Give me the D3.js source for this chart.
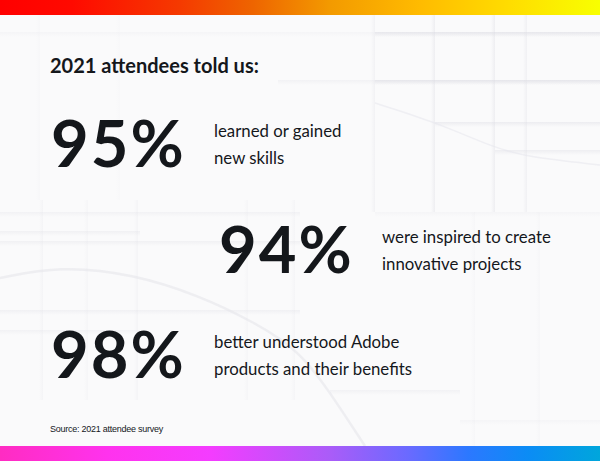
<!DOCTYPE html>
<html>
<head>
<meta charset="utf-8">
<script src="https://cdn.jsdelivr.net/npm/d3@7"></script>
<style>
  html, body { margin: 0; padding: 0; background: #f9f9fb; }
  svg { display: block; }
</style>
</head>
<body>
<svg id="chart" width="600" height="461"></svg>
<script>
// ---------- data ----------
const titleText = "2021 attendees told us:";
const statValues = [95, 94, 98];
const statColumns = [0, 1, 0];
const labelLine1 = ["learned or gained", "were inspired to create", "better understood Adobe"];
const labelLine2 = ["new skills", "innovative projects", "products and their benefits"];
const sourceText = "Source: 2021 attendee survey";

// ---------- setup ----------
const W = 600, H = 461;
const svg = d3.select("#chart");
const defs = svg.append("defs");

// background
svg.append("rect").attr("width", W).attr("height", H).attr("fill", "#fafafb");

// soft tile decoration
const deco = svg.append("g").attr("class", "deco");
const hLines = [
  [0, 600, 32, 0.2], [375, 600, 32, 0.6], [278, 600, 80, 0.3], [375, 600, 80, 0.6],
  [435, 600, 122, 0.5], [495, 600, 150, 0.45], [375, 600, 212, 0.2],
  [0, 300, 212, 0.3], [0, 140, 231, 0.35], [0, 300, 241, 0.35], [0, 300, 310, 0.35],
  [0, 140, 330, 0.3], [330, 460, 390, 0.3], [460, 600, 420, 0.2]
];
const vLines = [
  [375, 15, 212, 0.35], [435, 15, 212, 0.5], [495, 15, 212, 0.5], [527, 15, 212, 0.4],
  [43, 200, 400, 0.25], [88, 200, 400, 0.2], [138, 200, 400, 0.25], [248, 200, 400, 0.2],
  [295, 200, 400, 0.2], [40, 15, 200, 0.12], [120, 15, 200, 0.1], [475, 212, 446, 0.15], [540, 212, 446, 0.15]
];
const shadowGrad = defs.append("linearGradient").attr("id", "hshadow").attr("x1", 0).attr("y1", 0).attr("x2", 0).attr("y2", 1);
shadowGrad.append("stop").attr("offset", 0).attr("stop-color", "#dcdce3").attr("stop-opacity", 0.9);
shadowGrad.append("stop").attr("offset", 1).attr("stop-color", "#dcdce3").attr("stop-opacity", 0);
deco.selectAll("rect.hl").data(hLines).join("rect").attr("class", "hl")
  .attr("x", d => d[0]).attr("y", d => d[2]).attr("width", d => d[1] - d[0]).attr("height", 5)
  .attr("fill", "url(#hshadow)").attr("opacity", d => d[3]);
const vGrad = defs.append("linearGradient").attr("id", "vshadow").attr("x1", 0).attr("y1", 0).attr("x2", 1).attr("y2", 0);
vGrad.append("stop").attr("offset", 0).attr("stop-color", "#dcdce3").attr("stop-opacity", 0);
vGrad.append("stop").attr("offset", 1).attr("stop-color", "#dcdce3").attr("stop-opacity", 0.8);
deco.selectAll("rect.vl").data(vLines).join("rect").attr("class", "vl")
  .attr("x", d => d[0] - 4).attr("y", d => d[1]).attr("width", 4).attr("height", d => d[2] - d[1])
  .attr("fill", "url(#vshadow)").attr("opacity", d => d[3]);
// arcs
const curve = d3.line().curve(d3.curveBasis);
deco.append("path")
  .attr("d", curve([[0, 278], [60, 266], [133, 274], [200, 296], [250, 320], [300, 350], [335, 400], [365, 446]]))
  .attr("fill", "none").attr("stroke", "#e3e3e9").attr("stroke-width", 2.5).attr("opacity", 0.55);
deco.append("path")
  .attr("d", curve([[375, 103], [435, 122], [495, 148], [527, 157], [600, 165]]))
  .attr("fill", "none").attr("stroke", "#e6e6ec").attr("stroke-width", 1.5).attr("opacity", 0.55);

// gradient bars
const topGrad = defs.append("linearGradient").attr("id", "topGrad");
[[0, "#ff0000"], [0.12, "#ff0a00"], [0.3, "#f53a00"], [0.42, "#ee6400"], [0.55, "#f39a00"],
 [0.7, "#ffbb00"], [0.85, "#ffdd00"], [1, "#f8ff00"]]
  .forEach(s => topGrad.append("stop").attr("offset", s[0]).attr("stop-color", s[1]));
const botGrad = defs.append("linearGradient").attr("id", "botGrad");
[[0, "#ff2cc2"], [0.18, "#ff32ee"], [0.35, "#f43cff"], [0.55, "#aa5cf8"], [0.68, "#6a6aff"],
 [0.78, "#2c78ff"], [0.88, "#0b8cf5"], [1, "#00a6dc"]]
  .forEach(s => botGrad.append("stop").attr("offset", s[0]).attr("stop-color", s[1]));
svg.append("rect").attr("x", 0).attr("y", 0).attr("width", W).attr("height", 15).attr("fill", "url(#topGrad)");
svg.append("rect").attr("x", 0).attr("y", 446).attr("width", W).attr("height", 15).attr("fill", "url(#botGrad)");

// ---------- scales ----------
const y = d3.scalePoint().domain(d3.range(statValues.length)).range([167, 378]);
const x = d3.scaleOrdinal().domain([0, 1]).range([51, 219]);
const labelOffset = 163;
const fmt = d3.format(".0%");

const ink = "#14171b";

svg.append("text").attr("x", 50).attr("y", 73)
  .attr("font-family", "Lato, sans-serif").attr("font-weight", 700).attr("font-size", 20)
  .attr("fill", ink).text(titleText);

const rows = svg.selectAll("g.stat").data(statValues).join("g").attr("class", "stat")
  .attr("transform", (d, i) => `translate(${x(statColumns[i])},${y(i)})`);

rows.append("text").attr("x", 0).attr("y", 0)
  .attr("font-family", "Lato, sans-serif").attr("font-weight", 700).attr("font-size", 65)
  .attr("letter-spacing", 2)
  .attr("fill", ink).text(d => fmt(d / 100));

rows.append("text").attr("x", labelOffset).attr("y", -30)
  .attr("font-family", "Lato, sans-serif").attr("font-weight", 400).attr("font-size", 16.8)
  .attr("fill", ink).text((d, i) => labelLine1[i]);
rows.append("text").attr("x", labelOffset).attr("y", -3)
  .attr("font-family", "Lato, sans-serif").attr("font-weight", 400).attr("font-size", 16.8)
  .attr("fill", ink).text((d, i) => labelLine2[i]);

svg.append("text").attr("x", 50).attr("y", 432)
  .attr("font-family", "'Liberation Sans', sans-serif").attr("font-size", 9)
  .attr("letter-spacing", -0.25)
  .attr("fill", ink).text(sourceText);
</script>
</body>
</html>
